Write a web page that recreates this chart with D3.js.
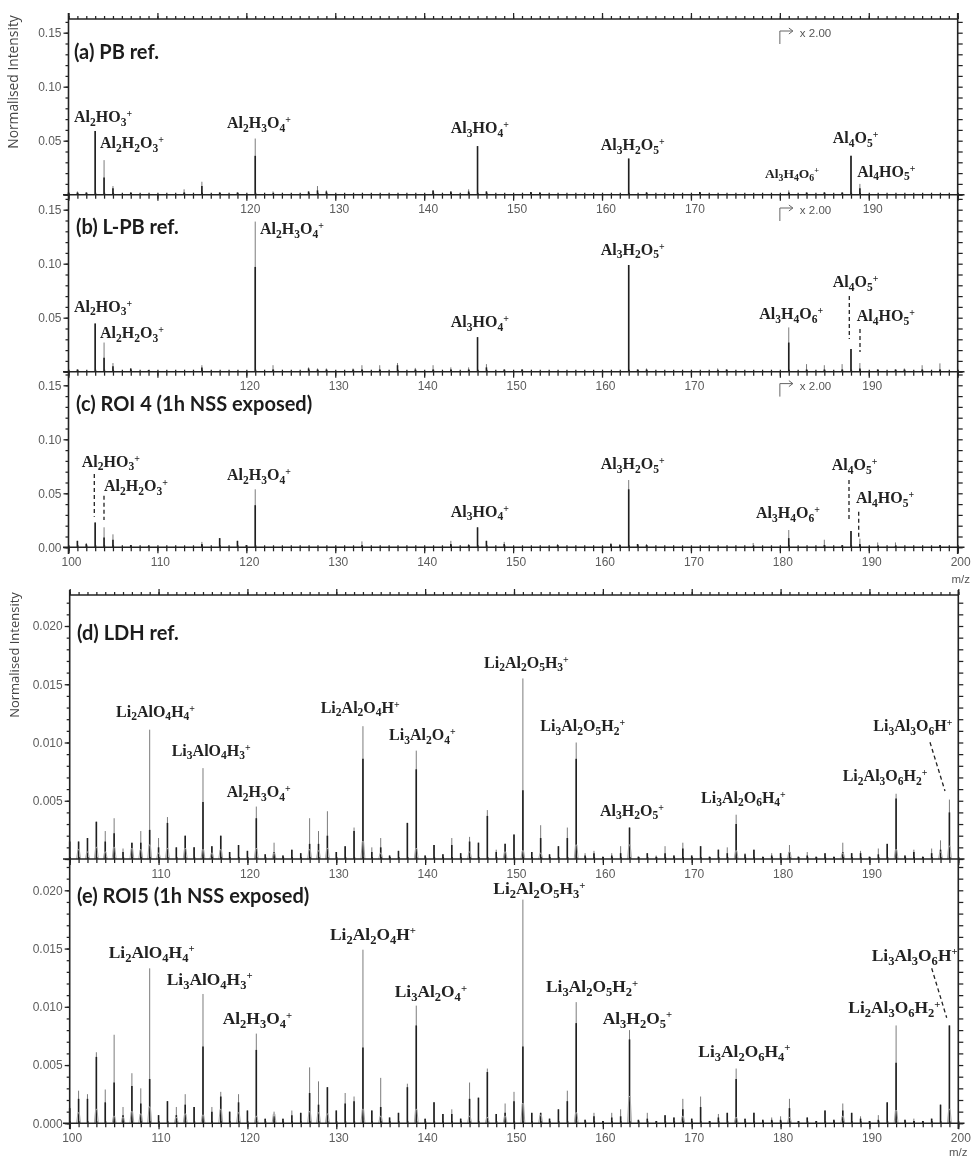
<!DOCTYPE html>
<html>
<head>
<meta charset="utf-8">
<script src="https://cdn.jsdelivr.net/npm/d3@7/dist/d3.min.js"></script>
<style>
html, body { margin: 0; padding: 0; background: #fff; overflow: hidden; }
svg { display: block; filter: blur(0.3px); }
.tick text { font-family: "Liberation Sans", sans-serif; fill: #5c5c5c; }
.ion { font-family: "Liberation Serif", serif; font-weight: bold; fill: #222; }
.title { font-family: Lato, "Open Sans", sans-serif; font-weight: bold; fill: #1c1c1c; font-size: 20px; }
.side { font-family: "Open Sans", sans-serif; fill: #444; }
</style>
</head>
<body>
<svg id="chart" width="971" height="1157"></svg>
<script>
// sticks for the three Al panels: mz, thin grey top, dark part top
const mzA = [100, 101, 102, 103, 104, 105, 107, 113, 115, 117, 119, 121, 123, 127, 128, 129, 141, 143, 145, 146, 147, 152, 153, 163, 165, 171, 181, 183, 185, 187, 188, 189];
const greyA = [0.002, 0.003, 0.002, 0.059, 0.032, 0.008, 0.002, 0.005, 0.012, 0.002, 0.002, 0.052, 0.003, 0.003, 0.008, 0.004, 0.004, 0.003, 0.005, 0.045, 0.003, 0.0025, 0.002, 0.0335, 0.0025, 0.0025, 0.004, 0.002, 0.0025, 0.002, 0.036, 0.01];
const darkA = [0.002, 0.002, 0.002, 0.059, 0.016, 0.006, 0.002, 0.002, 0.008, 0.002, 0.002, 0.036, 0.001, 0.003, 0.004, 0.003, 0.004, 0.003, 0.003, 0.045, 0.003, 0.0025, 0.002, 0.0335, 0.002, 0.0025, 0.002, 0.002, 0.002, 0.002, 0.036, 0.006];

const mzB = [101, 103, 104, 105, 107, 109, 115, 121, 123, 127, 128, 129, 132, 133, 135, 137, 139, 141, 143, 145, 146, 147, 149, 151, 163, 164, 165, 173, 174, 181, 183, 185, 187, 188, 189, 191, 193, 194, 196, 198];
const greyB = [0.002, 0.0447, 0.027, 0.008, 0.003, 0.0015, 0.006, 0.139, 0.006, 0.004, 0.003, 0.003, 0.003, 0.006, 0.006, 0.008, 0.0035, 0.006, 0.004, 0.004, 0.032, 0.007, 0.002, 0.002, 0.0988, 0.002, 0.003, 0.003, 0.002, 0.041, 0.007, 0.006, 0.007, 0.021, 0.008, 0.002, 0.002, 0.003, 0.006, 0.0077];
const darkB = [0.002, 0.0447, 0.013, 0.005, 0.003, 0.0015, 0.004, 0.097, 0.002, 0.003, 0.002, 0.002, 0.002, 0.002, 0.002, 0.006, 0.002, 0.002, 0.002, 0.002, 0.032, 0.004, 0.002, 0.002, 0.0988, 0.002, 0.002, 0.001, 0.002, 0.027, 0.002, 0.002, 0.002, 0.021, 0.003, 0.002, 0.002, 0.002, 0.002, 0.002];

const mzC = [101, 102, 103, 104, 105, 107, 109, 115, 117, 119, 120, 121, 133, 143, 145, 146, 147, 149, 155, 161, 162, 163, 164, 165, 177, 181, 185, 187, 188, 189, 191, 193, 198];
const greyC = [0.006, 0.004, 0.023, 0.0185, 0.012, 0.002, 0.002, 0.005, 0.0085, 0.006, 0.002, 0.0537, 0.0055, 0.006, 0.003, 0.0185, 0.006, 0.005, 0.003, 0.004, 0.003, 0.0623, 0.003, 0.003, 0.004, 0.016, 0.007, 0.002, 0.015, 0.008, 0.0045, 0.0045, 0.002];
const darkC = [0.006, 0.003, 0.023, 0.009, 0.007, 0.002, 0.001, 0.003, 0.0085, 0.006, 0.002, 0.039, 0.002, 0.003, 0.002, 0.0185, 0.006, 0.003, 0.002, 0.003, 0.002, 0.0537, 0.003, 0.002, 0.001, 0.0085, 0.002, 0.002, 0.015, 0.003, 0.001, 0.001, 0.002];

// the two Li-Al panels have a stick at every mass from 100 to 199
const mzAll = d3.range(100, 200);
const greyD = [0.0015, 0.0015, 0.0018, 0.0032, 0.0024, 0.0035, 0.0009, 0.0014, 0.0024, 0.0111,
  0.0018, 0.0036, 0.001, 0.002, 0.001, 0.0078, 0.0011, 0.002, 0.0006, 0.0012,
  0.0007, 0.0045, 0.0004, 0.0014, 0.0003, 0.0008, 0.0005, 0.0035, 0.0024, 0.0041,
  0.0006, 0.0011, 0.0027, 0.0114, 0.001, 0.0018, 0.0003, 0.0007, 0.0031, 0.0093,
  0.0003, 0.0012, 0.0004, 0.0018, 0.0005, 0.0019, 0.0014, 0.0042, 0.0008, 0.0013,
  0.0021, 0.0155, 0.0006, 0.0029, 0.0004, 0.0011, 0.0027, 0.01, 0.0005, 0.0007,
  0.0002, 0.0005, 0.0011, 0.0027, 0.0002, 0.0005, 0.0003, 0.0011, 0.0003, 0.0014,
  0.0003, 0.0011, 0.0002, 0.0008, 0.001, 0.0038, 0.0005, 0.0008, 0.0002, 0.0005,
  0.0005, 0.0012, 0.0002, 0.0006, 0.0002, 0.0005, 0.0002, 0.0014, 0.0005, 0.0007,
  0.0002, 0.0009, 0.0013, 0.0056, 0.0003, 0.0008, 0.0002, 0.0009, 0.0016, 0.0051];
const darkD = [0.0015, 0.0015, 0.0018, 0.0032, 0.0015, 0.0022, 0.0006, 0.0014, 0.0014, 0.0025,
  0.001, 0.0031, 0.001, 0.002, 0.001, 0.0049, 0.0011, 0.002, 0.0006, 0.0012,
  0.0007, 0.0035, 0.0004, 0.0006, 0.0003, 0.0008, 0.0005, 0.0013, 0.0013, 0.002,
  0.0006, 0.0011, 0.0024, 0.0086, 0.0006, 0.001, 0.0003, 0.0007, 0.0031, 0.0077,
  0.0003, 0.0012, 0.0004, 0.0012, 0.0005, 0.0015, 0.0014, 0.0037, 0.0006, 0.0013,
  0.0021, 0.0059, 0.0006, 0.0018, 0.0004, 0.0011, 0.0018, 0.0086, 0.0003, 0.0005,
  0.0002, 0.0003, 0.0005, 0.0027, 0.0002, 0.0005, 0.0002, 0.0005, 0.0003, 0.0009,
  0.0003, 0.0011, 0.0002, 0.0008, 0.0005, 0.003, 0.0004, 0.0008, 0.0002, 0.0003,
  0.0005, 0.0006, 0.0002, 0.0003, 0.0002, 0.0005, 0.0002, 0.0006, 0.0005, 0.0005,
  0.0002, 0.0004, 0.0013, 0.0052, 0.0003, 0.0006, 0.0002, 0.0005, 0.0008, 0.004];
const humpMzD = [101, 102, 103, 104, 105, 107, 108, 109, 110, 111, 113, 115, 116, 117, 121, 123, 127, 128, 129, 133, 135, 139, 145, 149, 151, 153, 157, 163, 175, 181, 187, 193, 198, 199];
const humpD = [0.0008, 0.0006, 0.001, 0.0006, 0.001, 0.0009, 0.0008, 0.0012, 0.0005, 0.0009, 0.0009, 0.0008, 0.0005, 0.0008, 0.0009, 0.0005, 0.0008, 0.0007, 0.0009, 0.0015, 0.0005, 0.0009, 0.0006, 0.0006, 0.0007, 0.0005, 0.0012, 0.0012, 0.0007, 0.0006, 0.0005, 0.0008, 0.0006, 0.0011];

const greyE = [0.0013, 0.0028, 0.0025, 0.0061, 0.0029, 0.0076, 0.0014, 0.0043, 0.003, 0.0133,
  0.0007, 0.0019, 0.0014, 0.0025, 0.0014, 0.0111, 0.0014, 0.0027, 0.001, 0.0025,
  0.0011, 0.0077, 0.0004, 0.001, 0.0004, 0.0011, 0.0009, 0.0048, 0.0036, 0.0031,
  0.0011, 0.0026, 0.0023, 0.0149, 0.0011, 0.0039, 0.0005, 0.0009, 0.0034, 0.0101,
  0.0004, 0.0018, 0.0008, 0.0012, 0.0004, 0.0035, 0.0022, 0.0047, 0.0008, 0.0017,
  0.0027, 0.0192, 0.0009, 0.0009, 0.0004, 0.0012, 0.0028, 0.0104, 0.0003, 0.0009,
  0.0002, 0.0009, 0.0012, 0.008, 0.0003, 0.0009, 0.0002, 0.0007, 0.0005, 0.0021,
  0.0004, 0.0023, 0.0002, 0.0008, 0.0009, 0.0047, 0.0004, 0.0009, 0.0003, 0.0005,
  0.0006, 0.0021, 0.0002, 0.0005, 0.0002, 0.0011, 0.0003, 0.0017, 0.0009, 0.0006,
  0.0002, 0.0007, 0.0018, 0.0084, 0.0003, 0.0004, 0.0002, 0.0004, 0.0016, 0.0084];
const darkE = [0.0013, 0.0021, 0.0021, 0.0057, 0.0018, 0.0035, 0.0007, 0.0032, 0.0017, 0.0038,
  0.0007, 0.0019, 0.0007, 0.0016, 0.0014, 0.0066, 0.001, 0.0023, 0.001, 0.0018,
  0.0011, 0.0063, 0.0004, 0.0006, 0.0004, 0.0007, 0.0009, 0.0026, 0.0016, 0.0031,
  0.0011, 0.0017, 0.0019, 0.0065, 0.0011, 0.0014, 0.0005, 0.0009, 0.0031, 0.0084,
  0.0004, 0.0018, 0.0008, 0.0008, 0.0004, 0.0021, 0.0022, 0.0044, 0.0008, 0.0009,
  0.0019, 0.0066, 0.0009, 0.0009, 0.0004, 0.0012, 0.0019, 0.0086, 0.0003, 0.0006,
  0.0002, 0.0005, 0.0006, 0.0072, 0.0003, 0.0004, 0.0002, 0.0007, 0.0005, 0.0012,
  0.0004, 0.0014, 0.0002, 0.0005, 0.0009, 0.0038, 0.0004, 0.0009, 0.0003, 0.0003,
  0.0003, 0.0013, 0.0002, 0.0005, 0.0002, 0.0011, 0.0003, 0.0011, 0.0009, 0.0004,
  0.0002, 0.0003, 0.0018, 0.0052, 0.0003, 0.0002, 0.0002, 0.0004, 0.0016, 0.0084];
const humpMzE = [101, 103, 105, 106, 107, 108, 109, 112, 113, 115, 117, 119, 121, 123, 127, 128, 129, 133, 135, 139, 145, 147, 149, 151, 153, 157, 163, 169, 175, 181, 187, 193, 199];
const humpE = [0.0009, 0.0012, 0.0006, 0.0005, 0.001, 0.0008, 0.0014, 0.0005, 0.0008, 0.0007, 0.0012, 0.0009, 0.0006, 0.0008, 0.001, 0.0009, 0.0008, 0.0012, 0.0006, 0.0012, 0.0006, 0.0005, 0.0006, 0.0017, 0.0007, 0.0009, 0.0023, 0.0006, 0.0005, 0.0005, 0.0006, 0.0011, 0.0012];

// digits are drawn as subscripts, + as a superscript
const ionsA = ["Al2HO3+", "Al2H2O3+", "Al2H3O4+", "Al3HO4+", "Al3H2O5+", "Al3H4O6+", "Al4O5+", "Al4HO5+"];
const ionsD = ["Li2AlO4H4+", "Li3AlO4H3+", "Al2H3O4+", "Li2Al2O4H+", "Li3Al2O4+", "Li2Al2O5H3+", "Li3Al2O5H2+", "Al3H2O5+", "Li3Al2O6H4+", "Li2Al3O6H2+", "Li3Al3O6H+"];

const labelXA = [74, 100, 227, 450.7, 600.7, 765, 832.7, 857.3];
const labelYA = [122, 148, 128, 133, 150, 177.7, 143, 176.7];
const labelXB = [74, 100, 260, 450.7, 600.7, 759.3, 832.7, 856.7];
const labelYB = [311.7, 338.3, 234.3, 327.3, 254.7, 319.3, 287.3, 321];
const labelXC = [81.7, 104, 227, 450.7, 600.7, 756, 831.7, 856];
const labelYC = [466.7, 491, 480, 516.7, 469, 518.3, 470, 503.3];
const labelXD = [116, 171.7, 226.7, 320.7, 389, 484, 540.3, 600, 701, 842.7, 873.3];
const labelYD = [716.7, 755.7, 797.3, 712.7, 740, 667.7, 731, 815.7, 802.7, 781, 731];
const labelXE = [108.7, 166.7, 222.7, 330, 394.7, 493.3, 546, 602.7, 698.3, 848.3, 871.7];
const labelYE = [957.7, 985, 1024.3, 940, 997.3, 894.3, 992.3, 1024, 1056.7, 1013.3, 960.7];

const svg = d3.select("#chart");

const panels = [
  { title: "(a) PB ref.", tx: 74, ty: 58.5, mz: mzA, grey: greyA, dark: darkA, ions: ionsA, lx: labelXA, ly: labelYA, size: 16, small: [5],
    x0: 68.5, x1: 957.7, top: 19, base: 194.7, perUnit: 162 / 0.15, max: 0.16, minor: 0.01, major: 0.05, fmt: ".2f", zero: false,
    xLabels: [120, 130, 140, 150, 160, 170, 190], dx: 3.5, x2: true },
  { title: "(b) L-PB ref.", tx: 76, ty: 234, mz: mzB, grey: greyB, dark: darkB, ions: ionsA, lx: labelXB, ly: labelYB, size: 16, small: [],
    x0: 68.5, x1: 957.7, top: 194.7, base: 371.7, perUnit: 162 / 0.15, max: 0.16, minor: 0.01, major: 0.05, fmt: ".2f", zero: false,
    xLabels: [120, 130, 140, 150, 160, 170, 190], dx: 3, x2: true },
  { title: "(c) ROI 4 (1h NSS exposed)", tx: 76, ty: 410.7, mz: mzC, grey: greyC, dark: darkC, ions: ionsA, lx: labelXC, ly: labelYC, size: 16, small: [],
    x0: 68.5, x1: 957.7, top: 371.7, base: 547.3, perUnit: 162 / 0.15, max: 0.16, minor: 0.01, major: 0.05, fmt: ".2f", zero: true,
    xLabels: [100, 110, 120, 130, 140, 150, 160, 170, 180, 190, 200], dx: 2.5, x2: true },
  { title: "(d) LDH ref.", tx: 77, ty: 640, mz: mzAll, grey: greyD, dark: darkD, humpMz: humpMzD, hump: humpD, ions: ionsD, lx: labelXD, ly: labelYD, size: 16, small: [],
    x0: 69.7, x1: 958.3, top: 595, base: 859, perUnit: 58.25 / 0.005, max: 0.022, minor: 0.001, major: 0.005, fmt: ".3f", zero: false,
    xLabels: [110, 120, 130, 140, 150, 160, 170, 180, 190], dx: 2, x2: false },
  { title: "(e) ROI5 (1h NSS exposed)", tx: 77, ty: 903, mz: mzAll, grey: greyE, dark: darkE, humpMz: humpMzE, hump: humpE, ions: ionsD, lx: labelXE, ly: labelYE, size: 17.4, small: [],
    x0: 69.7, x1: 958.3, top: 859, base: 1123.3, perUnit: 58.25 / 0.005, max: 0.022, minor: 0.001, major: 0.005, fmt: ".3f", zero: true,
    xLabels: [100, 110, 120, 130, 140, 150, 160, 170, 180, 190, 200], dx: 2, x2: false },
];

// dashed leaders, [x1, y1, x2, y2]
const leaders = [
  [849.3, 296, 849.3, 339], [860, 329, 860, 352],
  [94.3, 474, 94.3, 516.7], [104, 495.7, 104, 520], [849, 480, 849, 521.7], [858.7, 511.7, 858.7, 538],
  [930, 742.3, 945, 791], [931.7, 968.3, 946.7, 1017.7],
];

function drawIon(g, text, x, y, size) {
  const t = g.append("text").attr("class", "ion").attr("x", x).attr("y", y).style("font-size", size + "px");
  let shift = 0;
  for (const ch of text) {
    const isSub = /[0-9]/.test(ch);
    const isSup = ch === "+";
    const want = isSub ? size * 0.22 : isSup ? -size * 0.32 : 0;
    t.append("tspan")
      .attr("dy", want - shift)
      .style("font-size", (isSub ? size * 0.72 : isSup ? size * 0.62 : size) + "px")
      .text(ch);
    shift = want;
  }
}

panels.forEach((p) => {
  const x = d3.scaleLinear().domain([100, 200]).range([p.x0, p.x1]);
  const y = d3.scaleLinear().domain([0, p.max]).range([p.base, p.base - p.max * p.perUnit]);
  const g = svg.append("g");
  const minorX = d3.range(100, 201);
  const majorX = d3.range(100, 201, 10);
  const minorY = d3.range(0, p.max + 1e-9, p.minor);
  const majorY = d3.range(0, p.max + 1e-9, p.major);

  const axisLine = (sel) => {
    sel.select(".domain").remove();
    sel.selectAll("line").attr("stroke", "#222").attr("stroke-width", 1.25);
    sel.selectAll("text").remove();
  };

  // grey sticks first, dark lower part on top
  g.append("g").selectAll("line").data(p.mz).join("line")
    .attr("x1", (d) => x(d)).attr("x2", (d) => x(d))
    .attr("y1", y(0)).attr("y2", (d, i) => y(p.grey[i]))
    .attr("stroke", "#7c7c7c").attr("stroke-width", 1);
  g.append("g").selectAll("line").data(p.mz).join("line")
    .attr("x1", (d) => x(d)).attr("x2", (d) => x(d))
    .attr("y1", y(0)).attr("y2", (d, i) => y(p.dark[i]))
    .attr("stroke", "#1f1f1f").attr("stroke-width", 1.6);
  if (p.humpMz) {
    const hump = d3.line().x((d) => x(d[0])).y((d) => y(d[1]));
    g.append("g").selectAll("path").data(p.humpMz).join("path")
      .attr("d", (d, i) => hump([[d - 0.22, 0], [d - 0.08, p.hump[i]], [d + 0.08, p.hump[i]], [d + 0.22, 0]]))
      .attr("fill", "none").attr("stroke", "#a8a8a8").attr("stroke-width", 1);
  }

  // x axes: baseline, ticks through it, and the labels
  g.append("g").attr("transform", `translate(0,${p.base})`)
    .call(d3.axisBottom(x).tickValues(minorX).tickSize(4)).call(axisLine);
  g.append("g").attr("transform", `translate(0,${p.base})`)
    .call(d3.axisTop(x).tickValues(minorX).tickSize(2)).call(axisLine);
  g.append("g").attr("transform", `translate(0,${p.base})`)
    .call(d3.axisBottom(x).tickValues(majorX).tickSize(6)).call(axisLine);
  g.append("line").attr("x1", 63).attr("x2", 964.5).attr("y1", p.base).attr("y2", p.base)
    .attr("stroke", "#222").attr("stroke-width", 1.6);
  const xl = g.append("g").attr("transform", `translate(0,${p.base})`)
    .call(d3.axisBottom(x).tickValues(p.xLabels).tickFormat(d3.format("d")).tickSize(0).tickPadding(10));
  xl.select(".domain").remove();
  xl.selectAll("text").attr("dx", p.dx).style("font-size", "12px");

  // top edge of panels a and d carries its own ticks
  if (p.title.startsWith("(a)") || p.title.startsWith("(d)")) {
    g.append("g").attr("transform", `translate(0,${p.top})`)
      .call(d3.axisTop(x).tickValues(minorX).tickSize(3)).call(axisLine);
    g.append("g").attr("transform", `translate(0,${p.top})`)
      .call(d3.axisTop(x).tickValues(majorX).tickSize(6)).call(axisLine);
    g.append("line").attr("x1", p.x0).attr("x2", p.x1).attr("y1", p.top).attr("y2", p.top)
      .attr("stroke", "#222").attr("stroke-width", 1.6);
  }

  // y axes
  g.append("g").attr("transform", `translate(${p.x0},0)`)
    .call(d3.axisLeft(y).tickValues(minorY).tickSize(3)).call(axisLine);
  g.append("g").attr("transform", `translate(${p.x0},0)`)
    .call(d3.axisLeft(y).tickValues(majorY).tickSize(5)).call(axisLine);
  g.append("g").attr("transform", `translate(${p.x1},0)`)
    .call(d3.axisRight(y).tickValues(minorY).tickSize(5)).call(axisLine);
  const yl = g.append("g").attr("transform", `translate(${p.x0},0)`)
    .call(d3.axisLeft(y).tickValues(p.zero ? majorY : majorY.slice(1)).tickFormat(d3.format(p.fmt)).tickSize(0).tickPadding(7));
  yl.select(".domain").remove();
  yl.selectAll("text").style("font-size", "12px");

  g.append("text").attr("class", "title").attr("x", p.tx).attr("y", p.ty).text(p.title);

  p.ions.forEach((name, i) => {
    drawIon(g, name, p.lx[i], p.ly[i], p.small.includes(i) ? 13.5 : p.size);
  });

  if (p.x2) {
    const ax = x(180);
    const ay = y(0.15) - 1.7;
    g.append("path").attr("d", `M${ax},${ay + 13}V${ay}H${ax + 13}M${ax + 9},${ay - 3}L${ax + 13},${ay}L${ax + 9},${ay + 3}`)
      .attr("fill", "none").attr("stroke", "#666").attr("stroke-width", 1);
    g.append("text").attr("x", ax + 20).attr("y", ay + 6)
      .attr("font-family", "Liberation Sans, sans-serif").attr("font-size", 11.5).attr("fill", "#555").text("x 2.00");
  }
});

// continuous vertical frame lines through the panel stacks
[[68.5, 13, 554], [957.7, 13, 554], [69.7, 590, 1129], [958.3, 590, 1129]].forEach((s) => {
  svg.append("line").attr("x1", s[0]).attr("x2", s[0]).attr("y1", s[1]).attr("y2", s[2])
    .attr("stroke", "#222").attr("stroke-width", 1.6);
});

svg.append("g").selectAll("line").data(leaders).join("line")
  .attr("x1", (d) => d[0]).attr("y1", (d) => d[1]).attr("x2", (d) => d[2]).attr("y2", (d) => d[3])
  .attr("stroke", "#222").attr("stroke-width", 1.3).attr("stroke-dasharray", "4 3");

[[18, 82, 13.8], [19, 655, 13]].forEach((s) => {
  svg.append("text").attr("class", "side").attr("text-anchor", "middle").style("font-size", s[2] + "px")
    .attr("transform", `translate(${s[0]},${s[1]}) rotate(-90)`).text("Normalised Intensity");
});
[[951.5, 582.5], [949, 1155.5]].forEach((s) => {
  svg.append("text").attr("x", s[0]).attr("y", s[1])
    .attr("font-family", "Liberation Sans, sans-serif").attr("font-size", 11.5).attr("fill", "#555").text("m/z");
});
</script>
</body>
</html>
